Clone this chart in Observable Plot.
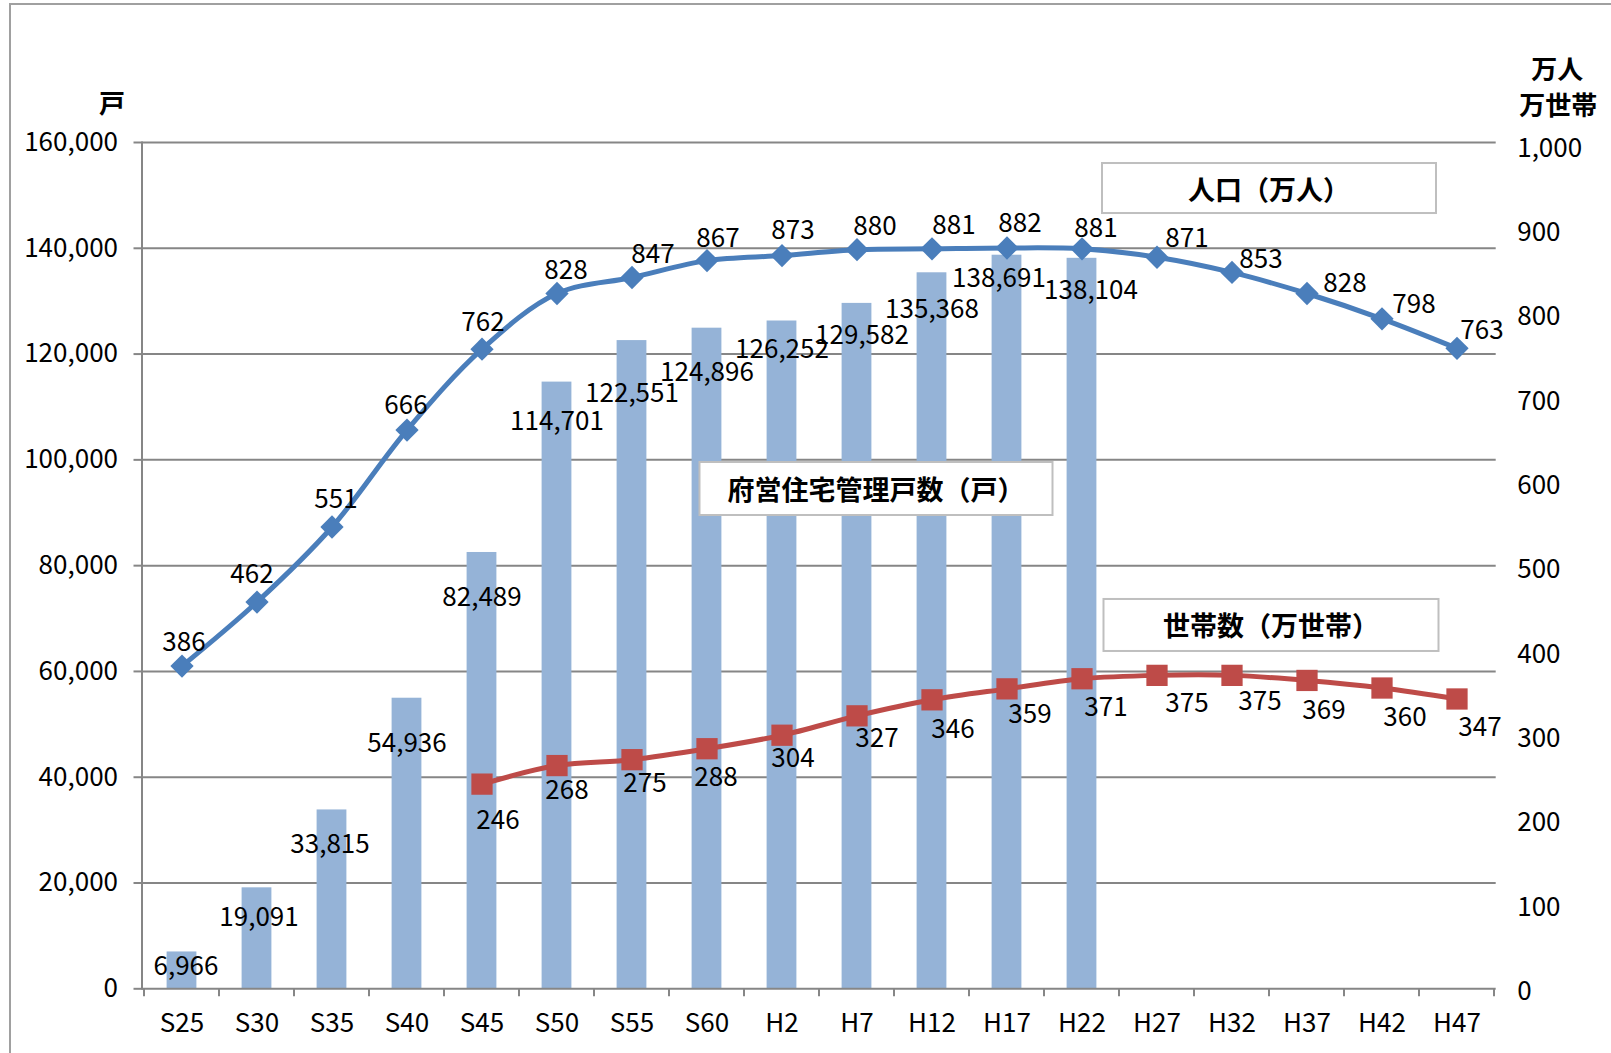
<!DOCTYPE html>
<html><head><meta charset="utf-8">
<script src="https://cdn.jsdelivr.net/npm/d3@7"></script>
<script src="https://cdn.jsdelivr.net/npm/@observablehq/plot@0.6"></script>
<style>
body{margin:0;background:#fff;overflow:hidden;width:1611px;height:1053px;}
#border{position:absolute;left:9px;top:3px;width:1700px;height:1100px;border-left:2px solid #A0A0A0;border-top:2px solid #A0A0A0;}
#chart{position:absolute;left:0;top:0;}
</style></head>
<body>
<div id="border"></div>
<div id="chart"></div>
<script>
// ---- data ----
const categories = ["S25","S30","S35","S40","S45","S50","S55","S60","H2","H7","H12","H17","H22","H27","H32","H37","H42","H47"];
const units = [6966,19091,33815,54936,82489,114701,122551,124896,126252,129582,135368,138691,138104,null,null,null,null,null];
const population = [386,462,551,666,762,828,847,867,873,880,881,882,881,871,853,828,798,763];
const households = [null,null,null,null,246,268,275,288,304,327,346,359,371,375,375,369,360,347];
const leftTicks = [0,20000,40000,60000,80000,100000,120000,140000,160000];
const rightTicks = [0,100,200,300,400,500,600,700,800,900,1000];
const seriesNames = ["人口（万人）","府営住宅管理戸数（戸）","世帯数（万世帯）"];

// ---- layout (label offsets in px, not data) ----
const barLabelOffset = [[4,15],[2,30],[-2,35],[0,45],[0,45],[0,40],[0,53],[0,44],[0,29],[5,32],[0,37],[-8,23],[9,32]];
const popLabelOffset = [[2,-23],[-5,-27],[4,-27],[-1,-24],[1,-26],[9,-23],[21,-23],[11,-22],[11,-25],[18,-23],[22,-23],[13,-24],[14,-20],[30,-19],[29,-13],[38,-10],[32,-14],[25,-18]];
const hhLabelOffset = [null,null,null,null,[16,37],[10,25],[13,24],[9,29],[11,23],[20,23],[21,30],[23,26],[24,29],[30,28],[28,26],[17,30],[23,30],[23,29]];
const boxLayout = [
  {cat:"H37", dx:0, y:151300, w:334, h:50},
  {cat:"H7", dx:57, y:94490, w:353, h:53},
  {cat:"H37", dx:2, y:68690, w:335, h:52}
];

const FONT = "'Noto Sans CJK JP', 'Noto Sans', sans-serif";
const fmt = d3.format(",");
// secondary (right) axis mapped onto the left scale
const y2 = v => (v*0.843 - 2.7)/846.3*160000;
const y2inv = d => Math.round((d/160000*846.3 + 2.7)/0.843);

const rows = categories.map((c,i)=>({cat:c, units:units[i], pop:population[i], hh:households[i]}));
const barRows = rows.filter(d=>d.units!=null);
const hhRows = rows.filter(d=>d.hh!=null);

const GRAY = "#868686";

const xBoundaryTicks = (index, scales, values, dims) => {
  const g = d3.create("svg:g");
  const x0 = scales.x(categories[0]);
  const bw = scales.x(categories[1]) - x0;
  const yb = dims.height - dims.marginBottom;
  for (let i=0;i<=categories.length;i++){
    const x = x0 + i*bw;
    g.append("line").attr("x1",x).attr("x2",x).attr("y1",yb).attr("y2",yb+8).attr("stroke",GRAY).attr("stroke-width",2);
  }
  return g.node();
};

const seriesBoxes = (index, scales) => {
  const g = d3.create("svg:g");
  boxLayout.forEach((b,i)=>{
    const cx = scales.x(b.cat) + b.dx;
    const cy = scales.y(b.y);
    g.append("rect").attr("x",cx-b.w/2).attr("y",cy-b.h/2).attr("width",b.w).attr("height",b.h)
      .attr("fill","#fff").attr("stroke","#BFBFBF").attr("stroke-width",2);
    g.append("text").attr("x",cx).attr("y",cy).attr("text-anchor","middle").attr("dominant-baseline","central")
      .attr("font-size",27).attr("font-weight","bold").attr("font-family",FONT).attr("fill","#000").text(seriesNames[i]);
  });
  return g.node();
};

const barLabels = barRows.map((d,i)=>Plot.text([d],{x:"cat", y:"units", text:d=>fmt(d.units), dx:barLabelOffset[i][0], dy:barLabelOffset[i][1], fontSize:26, fill:"#000"}));
const popLabels = rows.map((d,i)=>Plot.text([d],{x:"cat", y:d=>y2(d.pop), text:d=>String(d.pop), dx:popLabelOffset[i][0], dy:popLabelOffset[i][1], fontSize:26, fill:"#000"}));
const hhLabels = hhRows.map(d=>{const i=categories.indexOf(d.cat); return Plot.text([d],{x:"cat", y:e=>y2(e.hh), text:e=>String(e.hh), dx:hhLabelOffset[i][0], dy:hhLabelOffset[i][1], fontSize:26, fill:"#000"});});

const titleOpts = {fontSize:26, fontWeight:"bold", fill:"#000", textAnchor:"middle", lineAnchor:"middle"};

const chart = Plot.plot({
  width:1611, height:1053,
  marginLeft:141.5, marginRight:115.3, marginTop:142, marginBottom:64.7,
  x:{domain:categories, padding:0, axis:null, label:null},
  y:{domain:[0,160000], axis:null, label:null},
  style:{fontFamily:FONT, fontSize:"26px", color:"#000", background:"transparent", overflow:"visible"},
  marks:[
    Plot.ruleY(leftTicks.slice(1), {stroke:GRAY, strokeWidth:2}),
    Plot.barY(barRows, {x:"cat", y:"units", fill:"#95B3D7", insetLeft:22.6, insetRight:22.6}),
    Plot.ruleY([0], {stroke:GRAY, strokeWidth:2}),
    Plot.frame({anchor:"left", stroke:GRAY, strokeWidth:2}),
    Plot.axisY({ticks:leftTicks, label:null, tickSize:8, tickPadding:16, tickFormat:fmt, stroke:GRAY, strokeWidth:2, fontSize:26, fill:"#000"}),
    Plot.axisY({anchor:"right", label:null, ticks:rightTicks.map(y2), tickSize:0, tickPadding:21, tickFormat:d=>fmt(y2inv(d)), fontSize:26, fill:"#000"}),
    Plot.axisX({label:null, tickSize:0, tickPadding:25, fontSize:26, fill:"#000"}),
    xBoundaryTicks,
    Plot.line(rows, {x:"cat", y:d=>y2(d.pop), stroke:"#4A7EBB", strokeWidth:5, curve:"catmull-rom"}),
    Plot.dot(rows, {x:"cat", y:d=>y2(d.pop), symbol:"diamond2", r:10.5, fill:"#4A7EBB", stroke:null}),
    Plot.line(hhRows, {x:"cat", y:d=>y2(d.hh), stroke:"#BE4B48", strokeWidth:5, curve:"catmull-rom"}),
    Plot.dot(hhRows, {x:"cat", y:d=>y2(d.hh), symbol:"square", r:12, fill:"#BE4B48", stroke:null}),
    ...barLabels, ...popLabels, ...hhLabels,
    seriesBoxes,
    Plot.text(["戸"], {frameAnchor:"top-left", dx:-30, dy:-38, ...titleOpts}),
    Plot.text(["万人"], {frameAnchor:"top-right", dx:61, dy:-72, ...titleOpts}),
    Plot.text(["万世帯"], {frameAnchor:"top-right", dx:62, dy:-36, ...titleOpts})
  ]
});
document.getElementById("chart").appendChild(chart);
</script>
</body></html>
